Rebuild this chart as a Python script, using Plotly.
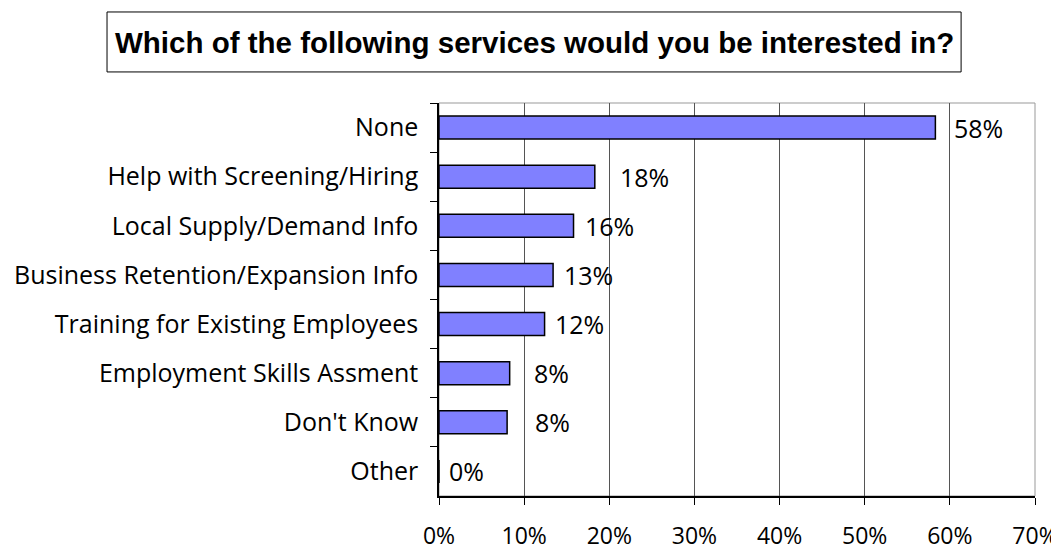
import plotly.graph_objects as go

categories = [
    "None",
    "Help with Screening/Hiring",
    "Local Supply/Demand Info",
    "Business Retention/Expansion Info",
    "Training for Existing Employees",
    "Employment Skills Assment",
    "Don't Know",
    "Other",
]
values = [0.583, 0.183, 0.158, 0.134, 0.124, 0.083, 0.080, 0.0]
x_ticks = [0, 0.1, 0.2, 0.3, 0.4, 0.5, 0.6, 0.7]
x_tick_labels = ["0%", "10%", "20%", "30%", "40%", "50%", "60%", "70%"]
title_text = "Which of the following services would you be interested in?"

# horizontal offsets (px) of the data labels, as in the reference
label_shifts = [17, 23, 9, 9, 8, 22, 26, 8]

FONT = "Open Sans"
LABEL_SIZE = 25

fig = go.Figure()
fig.add_trace(go.Bar(
    x=values,
    y=categories,
    orientation="h",
    marker=dict(color="#8080FF", line=dict(color="black", width=1.5)),
    hoverinfo="skip",
))

for cat, val, sh in zip(categories, values, label_shifts):
    fig.add_annotation(
        x=val, y=cat, xref="x", yref="y",
        text=f"{val:.0%}", showarrow=False,
        xanchor="left", yanchor="middle", xshift=sh,
        font=dict(family=FONT, size=LABEL_SIZE, color="black"),
    )

# plot area border (gray top/right)
fig.add_shape(type="rect", xref="paper", yref="paper", x0=0, x1=1, y0=0, y1=1,
              line=dict(color="#999999", width=1), layer="below")

# title box
fig.add_shape(type="rect", xref="paper", yref="paper",
              x0=-0.557, x1=0.876, y0=1.079, y1=1.2316,
              line=dict(color="black", width=1), fillcolor="white")
fig.add_annotation(
    x=0.1594, y=1.1552, xref="paper", yref="paper", showarrow=False,
    text=f"<b>{title_text}</b>", xanchor="center", yanchor="middle",
    font=dict(family="Liberation Sans, Arial", size=29.5, color="black"),
)

# the page body adds an 8px margin, so the figure is 8px smaller
fig.update_layout(
    width=1051, height=544,
    margin=dict(l=431, r=24, t=95, b=56, autoexpand=False),
    paper_bgcolor="white", plot_bgcolor="white",
    bargap=0.53,
    showlegend=False,
    xaxis=dict(
        range=[0, 0.7],
        tickvals=x_ticks, ticktext=x_tick_labels,
        showgrid=True, gridcolor="#555555", gridwidth=1,
        showline=True, linecolor="black", linewidth=1.5,
        ticks="outside", ticklen=7, tickcolor="black",
        ticklabelstandoff=12, ticklabeloverflow="allow",
        tickfont=dict(family=FONT, size=23, color="black"),
        zeroline=False, fixedrange=True, automargin=False,
    ),
    yaxis=dict(
        autorange="reversed",
        categoryorder="array", categoryarray=categories,
        showgrid=False,
        showline=True, linecolor="black", linewidth=1.5,
        ticks="outside", ticklen=7, tickcolor="black", tickson="boundaries",
        ticklabelstandoff=14,
        tickfont=dict(family=FONT, size=LABEL_SIZE, color="black"),
        zeroline=False, fixedrange=True, automargin=False,
    ),
)

fig.write_html("out.html")
